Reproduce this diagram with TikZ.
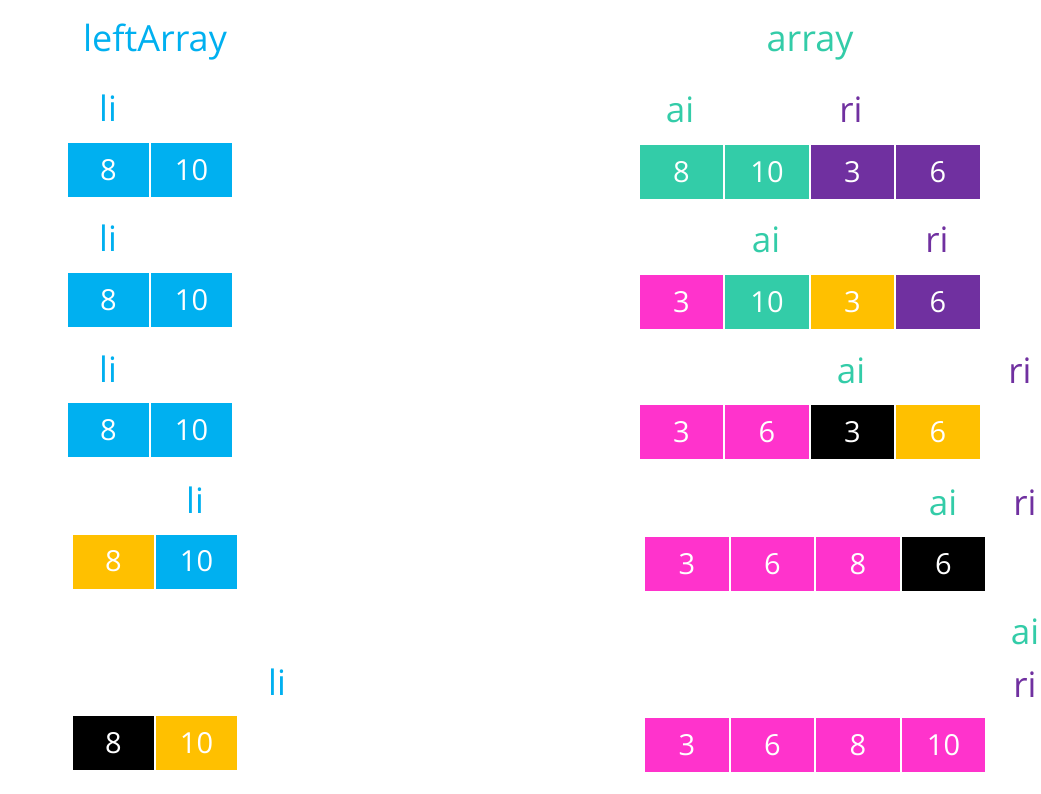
\documentclass[tikz,border=0pt]{standalone}
\usepackage{fontspec}
\setmainfont{Open Sans}
\definecolor{cblue}{HTML}{00B0F0}
\definecolor{cteal}{HTML}{33CCA8}
\definecolor{cpurple}{HTML}{7030A0}
\definecolor{cpink}{HTML}{FF33CC}
\definecolor{cyellow}{HTML}{FFC000}
\begin{document}
\begin{tikzpicture}[x=1pt,y=-1pt,
  lcell/.style={minimum width=81, minimum height=54, inner sep=0, text=white, font=\fontsize{29}{29}\selectfont},
  rcell/.style={minimum width=83.5, minimum height=54, inner sep=0, text=white, font=\fontsize{29}{29}\selectfont},
  lbl/.style={anchor=base, inner sep=0, font=\fontsize{35}{35}\selectfont},
  ttl/.style={anchor=base, inner sep=0, font=\fontsize{36}{36}\selectfont}]
\useasboundingbox[fill=white] (0,0) rectangle (1041,794);
% titles
\node[ttl, text=cblue] (tl) at (155,52) {leftArray};
\node[ttl, text=cteal] (tr) at (810,52) {array};
% left side
\node[lbl, text=cblue] (li1) at (108,122) {li};
\node[lcell, fill=cblue] (L1a) at (108.5,170) {8};
\node[lcell, fill=cblue] (L1b) at (191.5,170) {10};
\node[lbl, text=cblue] (li2) at (108,252) {li};
\node[lcell, fill=cblue] (L2a) at (108.5,300) {8};
\node[lcell, fill=cblue] (L2b) at (191.5,300) {10};
\node[lbl, text=cblue] (li3) at (108,382) {li};
\node[lcell, fill=cblue] (L3a) at (108.5,430) {8};
\node[lcell, fill=cblue] (L3b) at (191.5,430) {10};
\node[lbl, text=cblue] (li4) at (195,513) {li};
\node[lcell, fill=cyellow] (L4a) at (113.5,561.5) {8};
\node[lcell, fill=cblue] (L4b) at (196.5,561.5) {10};
\node[lbl, text=cblue] (li5) at (277,695) {li};
\node[lcell, fill=black] (L5a) at (113.5,743) {8};
\node[lcell, fill=cyellow] (L5b) at (196.5,743) {10};
% right side row 1
\node[lbl, text=cteal] (ai1) at (680,123) {ai};
\node[lbl, text=cpurple] (ri1) at (851,123) {ri};
\node[rcell, fill=cteal] (R1a) at (681.5,172) {8};
\node[rcell, fill=cteal] (R1b) at (767,172) {10};
\node[rcell, fill=cpurple] (R1c) at (852.5,172) {3};
\node[rcell, fill=cpurple] (R1d) at (938,172) {6};
% row 2
\node[lbl, text=cteal] (ai2) at (766,253) {ai};
\node[lbl, text=cpurple] (ri2) at (937,253) {ri};
\node[rcell, fill=cpink] (R2a) at (681.5,302) {3};
\node[rcell, fill=cteal] (R2b) at (767,302) {10};
\node[rcell, fill=cyellow] (R2c) at (852.5,302) {3};
\node[rcell, fill=cpurple] (R2d) at (938,302) {6};
% row 3
\node[lbl, text=cteal] (ai3) at (851,383) {ai};
\node[lbl, text=cpurple] (ri3) at (1020,383) {ri};
\node[rcell, fill=cpink] (R3a) at (681.5,432) {3};
\node[rcell, fill=cpink] (R3b) at (767,432) {6};
\node[rcell, fill=black] (R3c) at (852.5,432) {3};
\node[rcell, fill=cyellow] (R3d) at (938,432) {6};
% row 4
\node[lbl, text=cteal] (ai4) at (943,515) {ai};
\node[lbl, text=cpurple] (ri4) at (1025,515) {ri};
\node[rcell, fill=cpink] (R4a) at (687,564) {3};
\node[rcell, fill=cpink] (R4b) at (772.5,564) {6};
\node[rcell, fill=cpink] (R4c) at (858,564) {8};
\node[rcell, fill=black] (R4d) at (943.5,564) {6};
% row 5
\node[lbl, text=cteal] (ai5) at (1025,644) {ai};
\node[lbl, text=cpurple] (ri5) at (1025,697) {ri};
\node[rcell, fill=cpink] (R5a) at (687,745) {3};
\node[rcell, fill=cpink] (R5b) at (772.5,745) {6};
\node[rcell, fill=cpink] (R5c) at (858,745) {8};
\node[rcell, fill=cpink] (R5d) at (943.5,745) {10};
\end{tikzpicture}
\end{document}
